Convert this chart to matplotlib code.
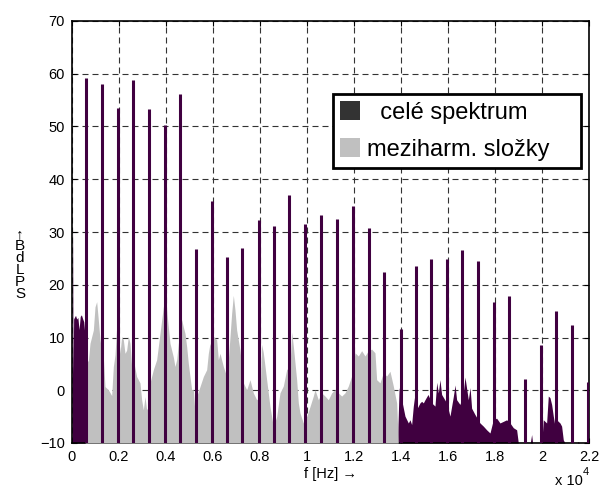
import matplotlib
matplotlib.use('Agg')
from matplotlib import pyplot as plt
from matplotlib.patches import Patch

plt.rcParams['font.family'] = ['Liberation Sans', 'DejaVu Sans']

# harmonic lines of the full spectrum (Hz, dB)
peak_freq = [596, 1277, 1957, 2608, 3276, 3944, 4595, 5276, 5944, 6582, 7246,
             7944, 8608, 9246, 9927, 10582, 11263, 11969, 12637, 13288, 13986,
             14637, 15275, 15956, 16607, 17288, 17956, 18607, 19275, 19943,
             20607, 21288, 21955]
peak_level = [59.1, 58.0, 53.6, 58.9, 53.3, 50.3, 56.1, 26.7, 35.9, 25.3, 26.9,
              32.3, 31.1, 37.1, 31.5, 33.2, 32.5, 34.9, 30.7, 22.4, 11.6,
              23.6, 24.8, 24.8, 26.5, 24.5, 16.7, 17.9, 2.1, 8.5,
              15.1, 12.4, 1.6]

# background of the full spectrum (Hz, dB)
floor_freq = [0, 25, 45, 70, 100, 150, 200, 250, 300, 350, 400, 450, 500, 540,
              570, 600, 13850, 13920, 14028, 14169, 14311, 14382, 14453, 14524,
              14600, 14666, 14807, 14878, 14949, 15020, 15150, 15304, 15446,
              15520, 15588, 15658, 15729, 15942, 16084, 16226, 16300, 16367,
              16509, 16651, 16722, 16864, 16940, 17005, 17147, 17360, 17502,
              17644, 17786, 17928, 18069, 18211, 18353, 18495, 18637, 18779,
              18921, 18992, 19500, 19559, 19600, 19990, 20055, 20197, 20268,
              20339, 20410, 20481, 20552, 20623, 20764, 20835, 20906, 20977,
              21500, 21544, 21590, 22000]
floor_level = [2, 31, 3, 13.5, 13.8, 14.2, 13.5, 13.8, 11.5, 14.0, 14.3, 13.6,
               13.0, 11, 4, -10, -10, 0.5, -1.8, -4.9, -6.2, -5.6, -6.5, -3.0,
               -0.5, -3.6, -2.4, -2.1, -2.4, -1.8, -0.8, -2.4, -3.0,
               1.5, -0.5, 2.0, -0.8, -2.4, -4.9, -1.2, 1.0, -1.8,
               -2.7, -0.5, 2.5, -1.8, 0.5, -3.4, -4.6, -6.2, -6.8,
               -7.5, -8.1, -5.6, -5.3, -6.2, -5.9, -5.6, -6.2, -7.1,
               -7.5, -10, -10, -8.4, -10, -10, -5.6, -6.2, -1.1,
               -1.4, -2.7, -4.9, -6.8, -5.6, -6.2, -6.8, -9.4, -10,
               -10, -9.7, -10, -10]

# interharmonic components (Hz, dB)
ih_freq = [560, 596, 695, 766, 908, 979, 1050, 1121, 1191, 1262, 1333, 1404,
           1546, 1688, 1759, 1830, 1900, 1971, 2042, 2113, 2184, 2255, 2326,
           2397, 2468, 2538, 2609, 2751, 2893, 2964, 3035, 3106, 3177, 3248,
           3319, 3461, 3603, 3744, 3886, 3957, 4028, 4099, 4170, 4241, 4312,
           4383, 4454, 4525, 4595, 4666, 4737, 4808, 4879, 4950, 5021, 5092,
           5163, 5234, 5305, 5447, 5589, 5731, 5801, 5872, 5943, 6014, 6156,
           6227, 6298, 6440, 6582, 6653, 6724, 6794, 6865, 6936, 7007, 7149,
           7291, 7433, 7575, 7716, 7858, 8000, 8071, 8141, 8212, 8283, 8425,
           8567, 8709, 8850, 8992, 9134, 9276, 9347, 9418, 9489, 9560, 9631,
           9701, 9843, 9985, 10127, 10269, 10340, 10481, 10623, 10765, 10907,
           11049, 11191, 11332, 11474, 11616, 11758, 11900, 12042, 12183,
           12325, 12467, 12609, 12751, 12893, 12964, 13105, 13247, 13389,
           13531, 13673, 13815, 13885]
ih_level = [-10, 5.8, 5.5, 8.9, 11.4, 15.8, 16.8, 13.3, 9.6, 7.6, 6.3, 0.7,
            0.1, -1.0, 4.5, 6.7, 12.0, 11.1, 7.0, 10.2, 9.6, 7.0, 7.6,
            10.2, 8.9, 4.5, 5.8, 2.6, 1.4, -1.8, -3.7, -1.2, -3.7, -3.1,
            1.4, 3.9, 5.8, 10.8, 15.8, 17.5, 15.2, 12.0, 8.9, 7.6, 6.3,
            4.5, 5.8, 8.9, 11.4, 13.4, 12.0, 10.8, 8.3, 5.1, 2.6, 0.1,
            0.1, -4.3, -1.2, 0.7, 2.6, 3.9, 7.0, 8.9, 7.6, 10.2, 9.6,
            5.8, 7.0, 4.5, 2.6, 5.8, 10.2, 14.6, 18.0, 15.2, 11.4, 7.6,
            1.4, 0.1, 2.0, -0.5, -1.8, -1.2, 8.7, 7.1, 4.6, 2.0, -3.1,
            -6.9, -5.0, -0.5, 0.8, 3.9, 4.6, 11.0, 8.4, 5.2, 2.0, -2.4,
            -4.3, -6.2, -5.0, -3.1, -1.1, 0.1, -1.8, -0.5, -1.1, -1.8,
            -0.5, 0.1, -0.5, -1.1, -0.5, 0.8, 2.7, 7.1, 6.5,
            7.5, 6.5, 7.5, 7.8, 7.1, 2.0, 1.4, 3.3, 2.7,
            3.6, 0.8, -2.4, -10]

xtick_vals = [0, 2000, 4000, 6000, 8000, 10000, 12000, 14000, 16000, 18000, 20000, 22000]
xtick_labels = ['0', '0.2', '0.4', '0.6', '0.8', '1', '1.2', '1.4', '1.6', '1.8', '2', '2.2']
ytick_vals = [-10, 0, 10, 20, 30, 40, 50, 60, 70]

purple = '#400040'
gray = '#c0c0c0'

fig = plt.figure(figsize=(6.03, 4.95), dpi=100)
ax = fig.add_axes([72/603, 52/495, 517/603, 422/495])

ax.fill_between(floor_freq, -10, floor_level, color=purple, lw=0, zorder=2)
ax.fill_between(ih_freq, -10, ih_level, color=gray, lw=0, zorder=3)
ax.vlines(peak_freq, -10, peak_level, color=purple, lw=2.2, zorder=4)

ax.set_xlim(0, 22000)
ax.set_ylim(-10, 70)
ax.set_xticks(xtick_vals)
ax.set_xticklabels(xtick_labels)
ax.set_yticks(ytick_vals)
ax.tick_params(direction='in', length=3.6, width=0.8, top=True, right=True,
               labelsize=10.5, pad=5)
ax.set_axisbelow(True)
ax.grid(True, color='#333333', lw=0.8, linestyle=(0, (5.4, 3.6)))
for s in ax.spines.values():
    s.set_linewidth(1.2)

ax.set_xlabel('f [Hz] \u2192', fontsize=10.5, labelpad=2)

# y label, letters stacked
fig.text(20/603, 1 - 264/495, '\u2191\nB\nd\nL\nP\nS', fontsize=11,
         ha='center', va='center', linespacing=0.8)

fig.text(555/603, 1 - 481/495, 'x 10', fontsize=10.5, ha='left', va='center')
fig.text(583/603, 1 - 472/495, '4', fontsize=8, ha='left', va='center')

handles = [Patch(facecolor='#333333', edgecolor='none', label='  cel\u00e9 spektrum'),
           Patch(facecolor=gray, edgecolor='none', label='meziharm. slo\u017eky')]
leg = ax.legend(handles=handles, loc='upper left',
                bbox_to_anchor=(0.505, 0.649, 0.48, 0.178), mode='expand',
                borderaxespad=0, fontsize=17, handlelength=0.85, handleheight=0.85,
                handletextpad=0.3, labelspacing=0.62, borderpad=0.3,
                fancybox=False, framealpha=1, edgecolor='black')
leg.get_frame().set_linewidth(2)

plt.savefig('out.png', dpi=100)
